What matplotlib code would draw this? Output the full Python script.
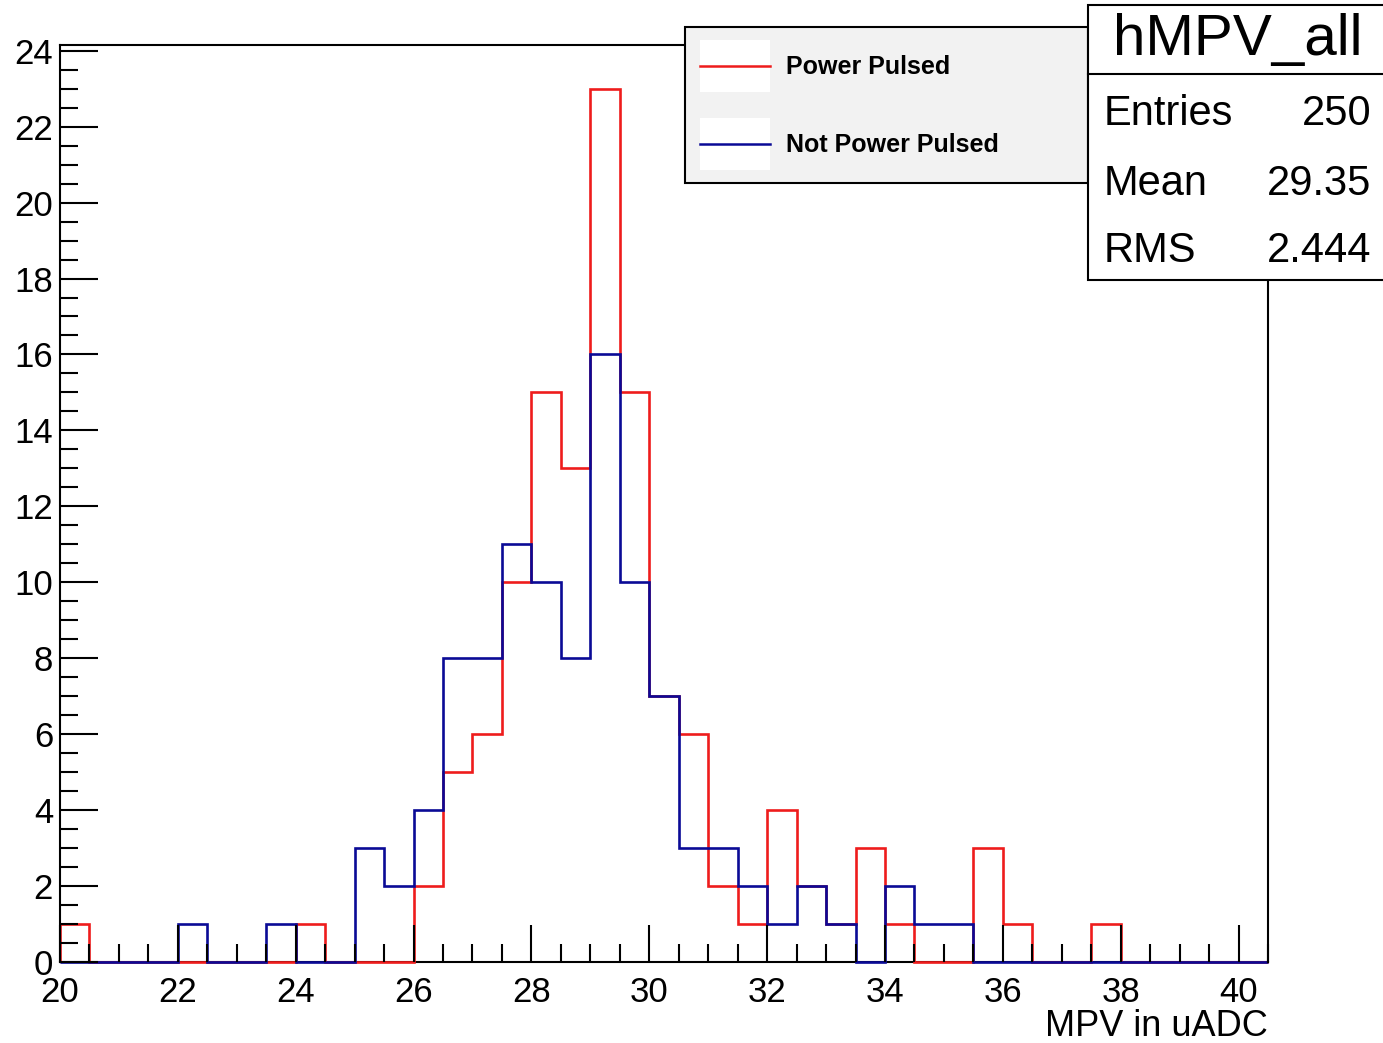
import numpy as np
import matplotlib
matplotlib.use('Agg')
import matplotlib.pyplot as plt
from matplotlib.patches import Rectangle
from matplotlib.lines import Line2D
from matplotlib.ticker import MultipleLocator

# binning of hMPV_all: 41 bins of 0.5 between 20 and 40.5
x_low = 20.0
x_high = 40.5
bin_width = 0.5

power_pulsed = [1, 0, 0, 0, 0, 0, 0, 0, 1, 0, 0, 0, 2, 5, 6, 10, 15, 13, 23, 15,
                7, 6, 2, 1, 4, 2, 1, 3, 1, 0, 0, 3, 1, 0, 0, 1, 0, 0, 0, 0, 0]
not_power_pulsed = [0, 0, 0, 0, 1, 0, 0, 1, 0, 0, 3, 2, 4, 8, 8, 11, 10, 8, 16, 10,
                    7, 3, 3, 2, 1, 2, 1, 0, 2, 1, 1, 0, 0, 0, 0, 0, 0, 0, 0, 0, 0]

legend_labels = ['Power Pulsed', 'Not Power Pulsed']
stats_title = 'hMPV_all'
stats_rows = [('Entries', '250'), ('Mean', '29.35'), ('RMS', '2.444')]
x_title = 'MPV in uADC'

W, H = 1383, 1043
red = '#ee1c1c'
blue = '#0a0a96'

plt.rcParams['font.family'] = ['Liberation Sans', 'DejaVu Sans']


def fx(px):
    return px / W


def fy(py):
    return 1 - py / H


fig = plt.figure(figsize=(W / 100, H / 100), dpi=100)
ax = fig.add_axes([fx(60), fy(962), fx(1268) - fx(60), fy(45) - fy(962)])

edges = np.arange(x_low, x_high + bin_width / 2, bin_width)
ax.stairs(power_pulsed, edges, color=red, lw=1.9, baseline=0, clip_on=False, zorder=1.0)
ax.stairs(not_power_pulsed, edges, color=blue, lw=1.9, baseline=0, clip_on=False, zorder=1.1)

ax.set_xlim(x_low, x_high)
ax.set_ylim(0, 1.05 * max(power_pulsed))

ax.xaxis.set_major_locator(MultipleLocator(2))
ax.xaxis.set_minor_locator(MultipleLocator(0.5))
ax.yaxis.set_major_locator(MultipleLocator(2))
ax.yaxis.set_minor_locator(MultipleLocator(0.5))
ax.tick_params(which='both', direction='in', top=False, right=False, width=1.5, color='black')
ax.tick_params(which='major', length=27, labelsize=25)
ax.tick_params(which='minor', length=13)
ax.tick_params(axis='x', which='major', pad=10)
ax.tick_params(axis='y', which='major', pad=5)
for s in ax.spines.values():
    s.set_linewidth(1.5)
ax.spines['bottom'].set_zorder(0.9)

fig.text(fx(1268), fy(1036), x_title, ha='right', va='baseline', fontsize=26)

# legend box
fig.patches.append(Rectangle((fx(685), fy(183)), fx(1088) - fx(685), fy(27) - fy(183),
                             transform=fig.transFigure, facecolor='#f2f2f2',
                             edgecolor='black', lw=1.5, zorder=5))
for i, (lab, col) in enumerate(zip(legend_labels, [red, blue])):
    yc = 66 + 78 * i
    fig.patches.append(Rectangle((fx(700), fy(yc + 26)), fx(770) - fx(700), fy(yc - 26) - fy(yc + 26),
                                 transform=fig.transFigure, facecolor='white',
                                 edgecolor='none', zorder=6))
    fig.lines.append(Line2D([fx(700), fx(770)], [fy(yc), fy(yc)], transform=fig.transFigure,
                            color=col, lw=1.8, zorder=7))
    fig.text(fx(786), fy(yc + 1), lab, ha='left', va='center', fontsize=18,
             fontweight='bold', zorder=7)

# stats box
fig.patches.append(Rectangle((fx(1088), fy(280)), fx(1400) - fx(1088), fy(5) - fy(280),
                             transform=fig.transFigure, facecolor='white',
                             edgecolor='black', lw=1.5, zorder=8, clip_on=False))
fig.lines.append(Line2D([fx(1088), fx(1400)], [fy(74), fy(74)], transform=fig.transFigure,
                        color='black', lw=1.5, zorder=9))
fig.text(fx(1238), fy(55), stats_title, ha='center', va='baseline', fontsize=42, zorder=9)
for i, (name, val) in enumerate(stats_rows):
    yb = [125, 195, 262][i]
    fig.text(fx(1104), fy(yb), name, ha='left', va='baseline', fontsize=30, zorder=9)
    fig.text(fx(1371), fy(yb), val, ha='right', va='baseline', fontsize=30, zorder=9)

fig.savefig('out.png', dpi=100)
